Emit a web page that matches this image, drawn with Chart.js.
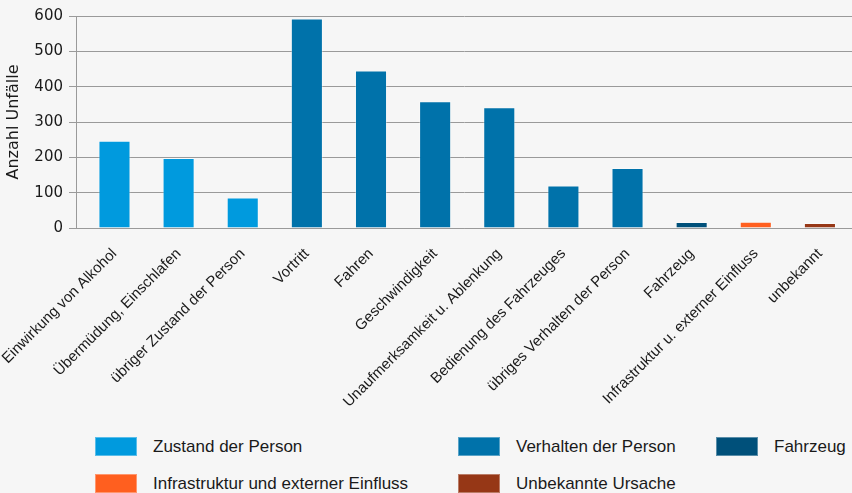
<!DOCTYPE html>
<html>
<head>
<meta charset="utf-8">
<script src="https://cdn.jsdelivr.net/npm/chart.js@4/dist/chart.umd.min.js"></script>
<style>
  html, body { margin: 0; padding: 0; background: #f6f6f6; }
  #wrap { position: relative; width: 852px; height: 493px; overflow: hidden; font-family: 'Liberation Sans', Arial, sans-serif; }
  #chartBox { position: absolute; left: 0; top: 0; width: 852px; height: 427px; }
  .legend { position: absolute; left: 0; top: 437px; width: 852px; color: #1a1a1a; font-size: 17px; }
  .item { position: absolute; height: 19px; line-height: 19px; white-space: nowrap; }
  .item span.sw { position: absolute; left: 0; top: 0; width: 42px; height: 19px; box-sizing: border-box; border: 1px solid rgba(255,255,255,0.35); }
  .item span.tx { position: absolute; left: 58px; top: 0; }
</style>
</head>
<body>
<div id="wrap">
  <div id="chartBox"><canvas id="chart"></canvas></div>
  <div class="legend" id="legend"></div>
</div>
<script>
// Unfallursachen
const categories = [
  'Einwirkung von Alkohol',
  'Übermüdung, Einschlafen',
  'übriger Zustand der Person',
  'Vortritt',
  'Fahren',
  'Geschwindigkeit',
  'Unaufmerksamkeit u. Ablenkung',
  'Bedienung des Fahrzeuges',
  'übriges Verhalten der Person',
  'Fahrzeug',
  'Infrastruktur u. externer Einfluss',
  'unbekannt'
]
const values = [247, 198, 86, 593, 446, 359, 342, 120, 170, 17, 18, 14]
// welche Gruppe jede Kategorie hat (Index in groupNames)
const groupOf = [0, 0, 0, 1, 1, 1, 1, 1, 1, 2, 3, 4]
const groupNames = [
  'Zustand der Person',
  'Verhalten der Person',
  'Fahrzeug',
  'Infrastruktur und externer Einfluss',
  'Unbekannte Ursache'
]
const groupColors = ['#009ade', '#0072aa', '#00507a', '#ff5f1f', '#963716']
const yTicks = [0, 100, 200, 300, 400, 500, 600]

const textColor = '#1a1a1a'
const gridColor = '#9a9a9a'

const config = {
  type: 'bar',
  data: {
    datasets: [{
      data: values.map((v, i) => ({ x: i, y: v })),
      backgroundColor: groupOf.map(g => groupColors[g]),
      borderColor: 'rgba(255,255,255,0.35)',
      borderWidth: 1,
      barPercentage: 0.5,
      categoryPercentage: 1
    }]
  },
  options: {
    responsive: false,
    animation: false,
    devicePixelRatio: 1,
    layout: { padding: { top: 16, left: 0, right: 0, bottom: 0 } },
    plugins: {
      legend: { display: false },
      tooltip: { enabled: false }
    },
    scales: {
      x: {
        type: 'linear',
        offset: false,
        min: -0.6,
        max: 11.5,
        grid: { display: false },
        border: { display: true, color: gridColor, width: 1 },
        afterBuildTicks: scale => {
          scale.ticks = categories.map((c, i) => ({ value: i }))
        },
        afterFit: scale => {
          scale.height = 199
          scale.paddingLeft = 0
          scale.paddingRight = 0
        },
        ticks: {
          autoSkip: false,
          minRotation: 45,
          maxRotation: 45,
          padding: 9,
          color: textColor,
          font: { family: 'Liberation Sans', size: 15 },
          callback: value => categories[value]
        }
      },
      y: {
        min: 0,
        max: 600,
        afterBuildTicks: scale => {
          scale.ticks = yTicks.map(v => ({ value: v }))
        },
        afterFit: scale => { scale.width = 76 },
        grid: { color: gridColor, lineWidth: 1, tickLength: 7 },
        border: { display: true, color: gridColor, width: 1 },
        ticks: {
          padding: 6,
          color: textColor,
          font: { family: 'DejaVu Sans', size: 15 }
        },
        title: {
          display: true,
          text: 'Anzahl Unfälle',
          color: textColor,
          font: { family: 'DejaVu Sans', size: 16 },
          padding: { top: 4, bottom: 0 }
        }
      }
    }
  }
}

const canvas = document.getElementById('chart')
canvas.width = 852
canvas.height = 427
new Chart(canvas.getContext('2d'), config)

// Legende in drei Spalten
const legendCols = [95, 458, 716]
const legend = document.getElementById('legend')
groupNames.forEach((name, i) => {
  const el = document.createElement('div')
  el.className = 'item'
  el.style.left = legendCols[i % 3] + 'px'
  el.style.top = (Math.floor(i / 3) * 37) + 'px'
  el.innerHTML = '<span class="sw" style="background:' + groupColors[i] + '"></span><span class="tx"></span>'
  el.querySelector('.tx').textContent = name
  legend.appendChild(el)
})
</script>
</body>
</html>
